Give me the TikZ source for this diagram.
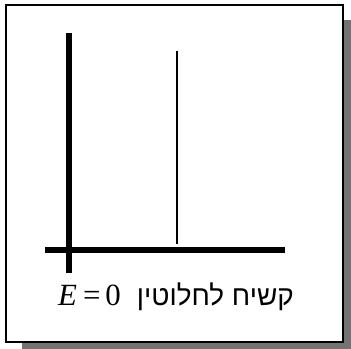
\documentclass[tikz,border=0pt]{standalone}
\usepackage{fontspec}
\newfontfamily\hebfont[Script=Hebrew]{Liberation Sans}
\newfontfamily\eqfont{Liberation Serif}
\TeXXeTstate=1
\begin{document}
\begin{tikzpicture}[x=1bp,y=-1bp,
  thickline/.style={line width=6bp,line cap=butt},
  thinline/.style={line width=1.6bp},
  framebox/.style={draw=black,line width=1.6bp,fill=white},
  shadowbox/.style={fill=gray!90!black,draw=none}]
\useasboundingbox (0,0) rectangle (351,349);
\fill[shadowbox] (22,20) rectangle (351,349);
\draw[framebox] (6,5) rectangle (343,342);
\coordinate (vt) at (69,33);
\coordinate (vb) at (69,273);
\coordinate (hl) at (45,250);
\coordinate (hr) at (285,250);
\coordinate (tt) at (177,51);
\coordinate (tb) at (177,244);
\draw[thickline] (vt) -- (vb);
\draw[thickline] (hl) -- (hr);
\draw[thinline] (tt) -- (tb);
\node[anchor=base,inner sep=0pt,font=\fontsize{28}{32}\selectfont] (lbl) at (176,305)
  {\hebfont\beginR קשיח לחלוטין\hspace{16bp}\beginL{\eqfont\fontsize{31}{34}\selectfont\textit{E}\hspace{6bp}=\hspace{5bp}0}\endL\endR};
\end{tikzpicture}
\end{document}
